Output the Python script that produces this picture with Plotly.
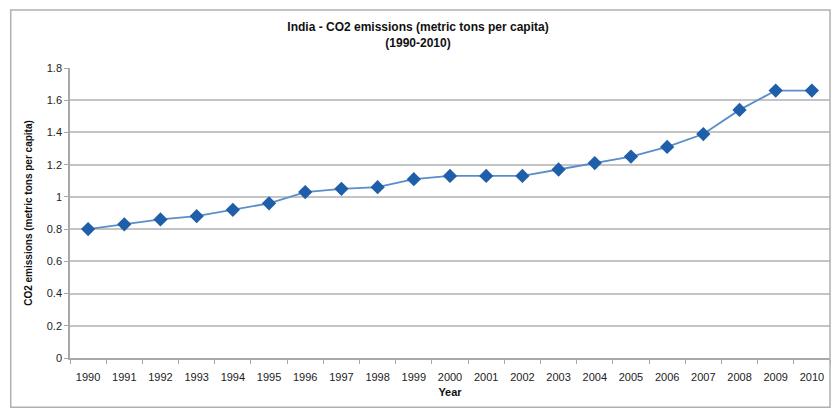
import plotly.graph_objects as go

years = [str(y) for y in range(1990, 2011)]
co2 = [0.80, 0.83, 0.86, 0.88, 0.92, 0.96, 1.03, 1.05, 1.06, 1.11, 1.13,
       1.13, 1.13, 1.17, 1.21, 1.25, 1.31, 1.39, 1.54, 1.66, 1.66]
y_ticks = [0, 0.2, 0.4, 0.6, 0.8, 1.0, 1.2, 1.4, 1.6, 1.8]
y_labels = ["0", "0.2", "0.4", "0.6", "0.8", "1", "1.2", "1.4", "1.6", "1.8"]

FONT = "Liberation Sans Narrow, Arial Narrow, Liberation Sans, Arial, sans-serif"

fig = go.Figure()
fig.add_trace(go.Scatter(
    x=years, y=co2, mode="lines+markers",
    line=dict(color="#5a8ec8", width=1.8),
    marker=dict(symbol="diamond", size=11, color="#1f5ea8",
                line=dict(color="#1f5ea8", width=0)),
    showlegend=False,
))

fig.update_layout(
    width=836, height=416,
    margin=dict(l=70, r=6, t=68, b=58),
    paper_bgcolor="white", plot_bgcolor="white",
    font=dict(family=FONT, size=11, color="#222"),
    title=dict(
        text="<b>India - CO2 emissions (metric tons per capita)<br>(1990-2010)</b>",
        x=0.5, xanchor="center", y=0.925, yanchor="top",
        font=dict(family=FONT, size=12, color="#111"),
    ),
    shapes=[dict(type="rect", xref="paper", yref="paper",
                 x0=-0.078, x1=1.0, y0=-0.17, y1=1.20,
                 line=dict(color="#b0b0b0", width=1.5))],
)

fig.update_xaxes(
    type="category", range=[-0.5, 20.5],
    showline=True, linecolor="#a8a8a8", linewidth=1.5,
    ticks="outside", tickson="boundaries", ticklen=4, tickcolor="#a8a8a8",
    ticklabelstandoff=8,
    showgrid=False, tickfont=dict(size=11, color="#222"),
    title=dict(text="<b>Year</b>", font=dict(size=11, color="#111"), standoff=6),
)
fig.update_yaxes(
    range=[0, 1.8], tickvals=y_ticks, ticktext=y_labels,
    showline=True, linecolor="#a8a8a8", linewidth=1.5,
    ticks="outside", ticklen=4, tickcolor="#a8a8a8",
    showgrid=True, gridcolor="#c4c4c4", gridwidth=1.5,
    zeroline=False, tickfont=dict(size=11, color="#222"),
    title=dict(text="<b>CO2 emissions (metric tons per capita)</b>",
               font=dict(size=10, color="#111"), standoff=12),
)

fig.write_html("out.html")
